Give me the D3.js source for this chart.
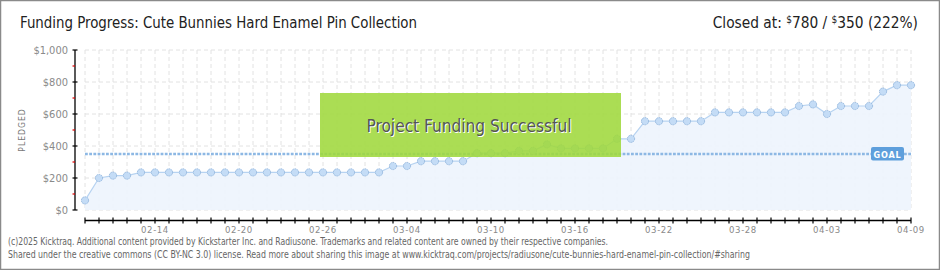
<!DOCTYPE html>
<html>
<head>
<meta charset="utf-8">
<script src="https://cdn.jsdelivr.net/npm/d3@7"></script>
<style>
  body { margin: 0; background: #fff; }
  svg { display: block; }
</style>
</head>
<body>
<svg id="chart"></svg>
<script>
// pledged total per day, Feb 9 -> Apr 9 2025
const startDate = "2025-02-09";
const pledged = [
  60, 200, 215, 215, 235, 235, 235, 235, 235, 235,
  235, 235, 235, 235, 235, 235, 235, 235, 235, 235,
  235, 235, 275, 275, 305, 305, 305, 305, 355, 355,
  355, 370, 370, 410, 385, 385, 385, 385, 445, 445,
  555, 555, 555, 555, 555, 610, 610, 610, 610, 610,
  610, 650, 660, 600, 650, 650, 650, 740, 780, 780
];
const goal = 350;
const yTicks = [0, 200, 400, 600, 800, 1000];
const yMinor = [100, 300, 500, 700, 900];
const xLabels = ["02-14", "02-20", "02-26", "03-04", "03-10", "03-16", "03-22", "03-28", "04-03", "04-09"];
const titleText = "Funding Progress: Cute Bunnies Hard Enamel Pin Collection";
const footer = [
  "(c)2025 Kicktraq. Additional content provided by Kickstarter Inc. and Radiusone. Trademarks and related content are owned by their respective companies.",
  "Shared under the creative commons (CC BY-NC 3.0) license. Read more about sharing this image at www.kicktraq.com/projects/radiusone/cute-bunnies-hard-enamel-pin-collection/#sharing"
];
const footerLen = [600, 742];

const width = 940;
const height = 270;
const font = "'DejaVu Sans Condensed', 'DejaVu Sans', sans-serif";

const parse = d3.utcParse("%Y-%m-%d");
const t0 = parse(startDate);
const data = pledged.map((v, i) => ({ date: d3.utcDay.offset(t0, i), value: v }));
const fmtDay = d3.utcFormat("%m-%d");

const svg = d3.select("#chart")
  .attr("width", width)
  .attr("height", height)
  .attr("font-family", font);

// frame
svg.append("rect")
  .attr("x", 0.5).attr("y", 0.5)
  .attr("width", width - 1).attr("height", height - 1)
  .attr("fill", "#fff")
  .attr("stroke", "#8a8a8a")
  .attr("stroke-width", 1.5);

const x = d3.scaleUtc()
  .domain(d3.extent(data, d => d.date))
  .range([85, 911]);

const y = d3.scaleLinear()
  .domain([0, 1000])
  .range([210, 50]);

// grid
const grid = svg.append("g")
  .attr("stroke", "#e2e2e2")
  .attr("stroke-dasharray", "4,3");
grid.selectAll(".v")
  .data(data)
  .join("line")
  .attr("x1", d => x(d.date)).attr("x2", d => x(d.date))
  .attr("y1", y(1000)).attr("y2", y(0));
grid.selectAll(".h")
  .data(yTicks)
  .join("line")
  .attr("x1", x.range()[0]).attr("x2", x.range()[1])
  .attr("y1", d => y(d)).attr("y2", d => y(d));

// area + line
svg.append("path")
  .datum(data)
  .attr("fill", "#edf4fd")
  .attr("fill-opacity", 0.9)
  .attr("d", d3.area().x(d => x(d.date)).y0(y(0)).y1(d => y(d.value)));

svg.append("path")
  .datum(data)
  .attr("fill", "none")
  .attr("stroke", "#b7d3f1")
  .attr("stroke-width", 1.2)
  .attr("d", d3.line().x(d => x(d.date)).y(d => y(d.value)));

// goal line
svg.append("line")
  .attr("x1", x.range()[0]).attr("x2", x.range()[1])
  .attr("y1", y(goal)).attr("y2", y(goal))
  .attr("stroke", "#8db8e4")
  .attr("stroke-width", 2.6)
  .attr("stroke-dasharray", "2.8,1.4");

// points
svg.append("g")
  .selectAll("circle")
  .data(data)
  .join("circle")
  .attr("cx", d => x(d.date))
  .attr("cy", d => y(d.value))
  .attr("r", 3.6)
  .attr("fill", "#c4dcf6")
  .attr("stroke", "#8fb2da")
  .attr("stroke-width", 0.9)
  .attr("stroke-dasharray", "1.5,0.8");

// goal tag
const goalTag = svg.append("g")
  .attr("transform", `translate(${x.range()[1] - 40},${y(goal) - 7})`);
goalTag.append("rect")
  .attr("width", 33).attr("height", 13.5)
  .attr("rx", 2)
  .attr("fill", "#5e9fdc");
goalTag.append("text")
  .attr("x", 16.5).attr("y", 10.5)
  .attr("text-anchor", "middle")
  .attr("font-size", 9)
  .attr("font-weight", "bold")
  .attr("letter-spacing", 0.8)
  .attr("fill", "#fff")
  .text("GOAL");

// success banner
const banner = svg.append("g");
banner.append("rect")
  .attr("x", 320).attr("y", 93)
  .attr("width", 301).attr("height", 64)
  .attr("fill", "#9fd83c")
  .attr("fill-opacity", 0.88);
banner.append("text")
  .attr("x", 470).attr("y", 133)
  .attr("text-anchor", "middle")
  .attr("font-size", 17.5)
  .attr("textLength", 205)
  .attr("lengthAdjust", "spacingAndGlyphs")
  .attr("fill", "#fff")
  .text("Project Funding Successful");
banner.append("text")
  .attr("x", 469).attr("y", 132)
  .attr("text-anchor", "middle")
  .attr("font-size", 17.5)
  .attr("textLength", 205)
  .attr("lengthAdjust", "spacingAndGlyphs")
  .attr("fill", "#555")
  .text("Project Funding Successful");

// y axis
const yAxis = svg.append("g").attr("transform", "translate(75,0)");
yAxis.append("line")
  .attr("y1", y(1000)).attr("y2", y(0))
  .attr("stroke", "#000").attr("stroke-width", 1.3);
yAxis.selectAll(".maj")
  .data(yTicks)
  .join("line")
  .attr("x1", -2.5).attr("x2", 2.5)
  .attr("y1", d => y(d)).attr("y2", d => y(d))
  .attr("stroke", "#000").attr("stroke-width", 1.2);
yAxis.selectAll(".min")
  .data(yMinor)
  .join("line")
  .attr("x1", -2.5).attr("x2", 0)
  .attr("y1", d => y(d)).attr("y2", d => y(d))
  .attr("stroke", "#d00").attr("stroke-width", 1.2);
yAxis.selectAll("text")
  .data(yTicks)
  .join("text")
  .attr("x", -7)
  .attr("y", d => y(d) + 4)
  .attr("text-anchor", "end")
  .attr("font-size", 11)
  .attr("fill", "#8a8a8a")
  .text(d => "$" + d3.format(",")(d));

svg.append("text")
  .attr("transform", "translate(25,130) rotate(-90)")
  .attr("text-anchor", "middle")
  .attr("font-size", 8.5)
  .attr("letter-spacing", 1)
  .attr("fill", "#777")
  .text("PLEDGED");

// x axis
const xAxis = svg.append("g").attr("transform", "translate(0,220.5)");
xAxis.append("line")
  .attr("x1", x.range()[0]).attr("x2", x.range()[1])
  .attr("stroke", "#000").attr("stroke-width", 1.3);
xAxis.selectAll(".tk")
  .data(data)
  .join("line")
  .attr("x1", d => x(d.date)).attr("x2", d => x(d.date))
  .attr("y1", -3).attr("y2", 3)
  .attr("stroke", "#000").attr("stroke-width", 1.2);
xAxis.selectAll("text")
  .data(data.filter(d => xLabels.includes(fmtDay(d.date))))
  .join("text")
  .attr("x", d => x(d.date))
  .attr("y", 12)
  .attr("text-anchor", "middle")
  .attr("font-size", 9.5)
  .attr("letter-spacing", 0.6)
  .attr("fill", "#8a8a8a")
  .text(d => fmtDay(d.date));

// title
svg.append("text")
  .attr("x", 20).attr("y", 28)
  .attr("font-size", 16)
  .attr("textLength", 397)
  .attr("lengthAdjust", "spacingAndGlyphs")
  .attr("fill", "#222")
  .text(titleText);

const closed = svg.append("text")
  .attr("x", 918).attr("y", 28)
  .attr("text-anchor", "end")
  .attr("font-size", 15.3)
  .attr("fill", "#222");
closed.append("tspan").text("Closed at:  ");
closed.append("tspan").attr("font-size", 10).attr("dy", -5).text("$");
closed.append("tspan").attr("dy", 5).text(pledged[pledged.length - 1] + " /  ");
closed.append("tspan").attr("font-size", 10).attr("dy", -5).text("$");
closed.append("tspan").attr("dy", 5)
  .text(goal + " (" + Math.floor(pledged[pledged.length - 1] / goal * 100) + "%)");

// footer
svg.append("g")
  .selectAll("text")
  .data(footer)
  .join("text")
  .attr("x", 8)
  .attr("y", (d, i) => 245 + i * 13)
  .attr("font-size", 9.6)
  .attr("textLength", (d, i) => footerLen[i])
  .attr("lengthAdjust", "spacingAndGlyphs")
  .attr("fill", "#666")
  .text(d => d);
</script>
</body>
</html>
